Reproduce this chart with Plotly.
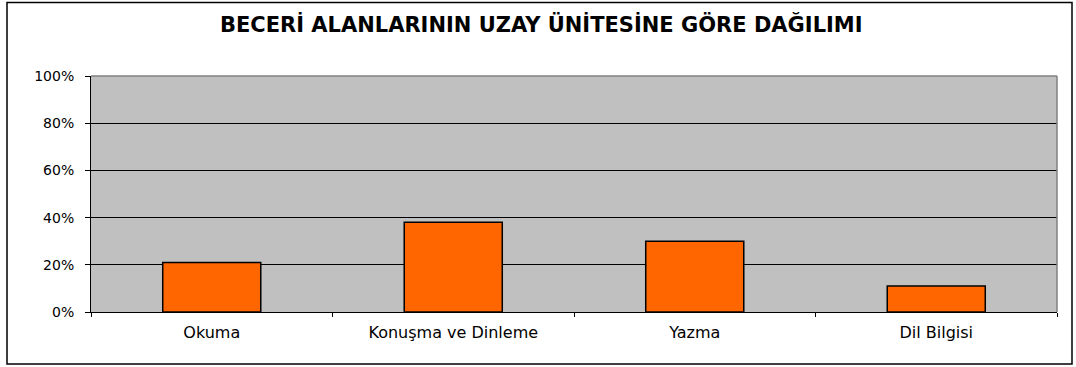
import plotly.graph_objects as go

# Skill areas and their share in the unit (percent)
categories = ["Okuma", "Konuşma ve Dinleme", "Yazma", "Dil Bilgisi"]
shares = [21, 38, 30, 11]
y_tick_values = [0, 20, 40, 60, 80, 100]
y_tick_labels = ["0%", "20%", "40%", "60%", "80%", "100%"]
title_text = "BECERİ ALANLARININ UZAY ÜNİTESİNE GÖRE DAĞILIMI"

W, H = 1076, 367
ML, MR, MT, MB = 91, 19, 76, 55
plot_w = W - ML - MR
plot_h = H - MT - MB


def px_x(p):
    return (p - ML) / plot_w


def px_y(p):
    return (H - MB - p) / plot_h


fig = go.Figure(
    go.Bar(
        x=categories,
        y=shares,
        marker=dict(color="#FF6600", line=dict(color="#000000", width=1.5)),
        hoverinfo="x+y",
    )
)

fig.update_layout(
    width=W,
    height=H,
    margin=dict(l=ML, r=MR, t=MT, b=MB, pad=0),
    paper_bgcolor="#FFFFFF",
    plot_bgcolor="#C0C0C0",
    bargap=0.594,
    showlegend=False,
    title=dict(
        text="<b>" + title_text + "</b>",
        x=0.503,
        xref="paper" if False else "container",
        xanchor="center",
        y=1 - 25 / H,
        yref="container",
        yanchor="middle",
        font=dict(family="DejaVu Sans", size=21, color="#000000"),
    ),
    font=dict(family="DejaVu Sans", color="#000000"),
)

fig.update_xaxes(
    type="category",
    showgrid=False,
    showline=True,
    linecolor="#000000",
    linewidth=1,
    ticks="outside",
    tickson="boundaries",
    ticklen=4,
    tickcolor="#000000",
    tickfont=dict(family="DejaVu Sans", size=16, color="#000000"),
    ticklabelstandoff=6,
    zeroline=False,
)

fig.update_yaxes(
    range=[0, 100],
    tickvals=y_tick_values,
    ticktext=y_tick_labels,
    showgrid=True,
    gridcolor="#000000",
    gridwidth=1,
    showline=True,
    linecolor="#000000",
    linewidth=1,
    ticks="outside",
    ticklen=5,
    tickcolor="#000000",
    tickfont=dict(family="DejaVu Sans", size=14, color="#000000"),
    ticklabelstandoff=8,
    zeroline=False,
)

# Grey frame on the top and right edges of the plot area
fig.add_shape(type="line", xref="paper", yref="paper", x0=0, x1=1, y0=1, y1=1,
              line=dict(color="#808080", width=1.5), layer="above")
fig.add_shape(type="line", xref="paper", yref="paper", x0=1, x1=1, y0=0, y1=1,
              line=dict(color="#808080", width=1.5), layer="above")

# Outer chart border
fig.add_shape(
    type="rect",
    xref="paper",
    yref="paper",
    x0=px_x(7),
    x1=px_x(1072),
    y0=px_y(364),
    y1=px_y(2.5),
    line=dict(color="#000000", width=1.5),
    fillcolor="rgba(0,0,0,0)",
    layer="above",
)

fig.write_html("out.html")
